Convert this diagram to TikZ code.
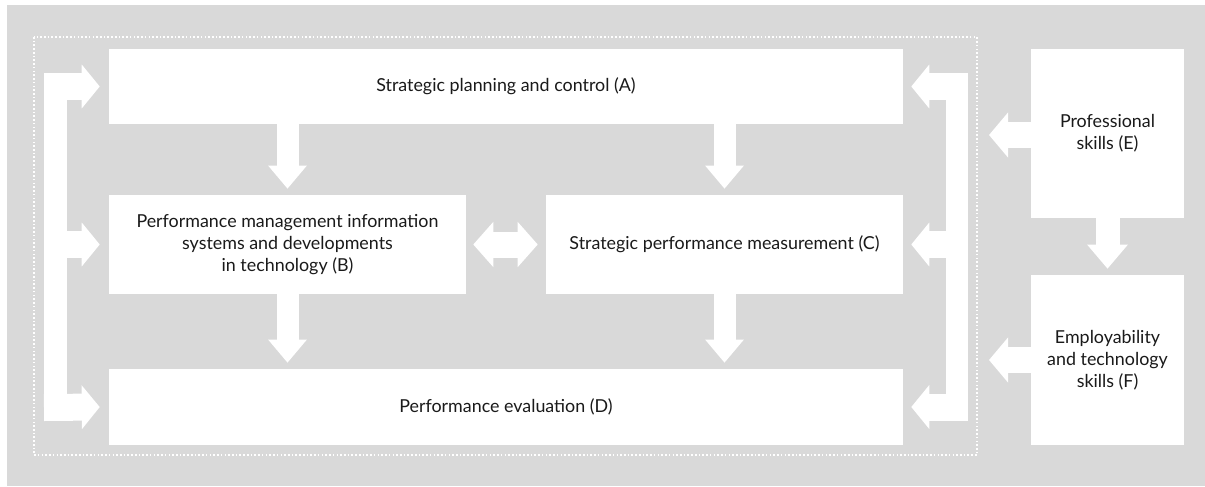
\documentclass[tikz,border=0pt]{standalone}
\usepackage{fontspec}
\setmainfont{Lato}
\usetikzlibrary{arrows.meta}
\definecolor{bg}{HTML}{D9D9D9}
\definecolor{txt}{HTML}{1A1A1A}
\tikzset{
  box/.style={fill=white, draw=none, inner sep=0pt, align=center, text=txt,
    font=\fontsize{13.4}{16.5}\selectfont},
  blk/.style={draw=white, line cap=butt, line join=miter},
  hA/.style={-{Triangle[width=32.25pt,length=13.5pt]}},
  hD/.style={-{Triangle[width=27.75pt,length=17.25pt]}},
  hE/.style={-{Triangle[width=33pt,length=14.25pt]}},
  hF/.style={-{Triangle[width=29.25pt,length=18pt]}},
  hBC/.style={{Triangle[width=33pt,length=15pt]}-{Triangle[width=33pt,length=15pt]}},
}
\begin{document}
\begin{tikzpicture}[x=0.75pt,y=-0.75pt]
\useasboundingbox (0,0) rectangle (1205,486);
\fill[bg] (7,5) rectangle (1205,486);
\draw[white, line width=1.1pt, dash pattern=on 1.2pt off 1.6pt] (34,37) rectangle (977,455);

\node[box, minimum width=595.5pt, minimum height=56.25pt] (A) at (506,86.5) {Strategic planning and control (A)};
\node[box, minimum width=267.75pt, minimum height=74.25pt] (B) at (287.5,244.5) {Performance management information\\systems and developments\\in technology (B)};
\node[box, minimum width=267.75pt, minimum height=74.25pt] (C) at (724.5,244.5) {Strategic performance measurement (C)};
\node[box, minimum width=595.5pt, minimum height=57pt] (D) at (506,407) {Performance evaluation (D)};
\node[box, minimum width=114.75pt, minimum height=126.75pt] (E) at (1107.5,133.5) {Professional\\skills (E)};
\node[box, minimum width=114.75pt, minimum height=127.5pt] (F) at (1107.5,360) {Employability\\and technology\\skills (F)};

% vertical down arrows
\draw[blk, hD, line width=16.5pt] (A.south -| B.center) -- ([yshift=4.5pt]B.north);
\draw[blk, hD, line width=16.5pt] (A.south -| C.center) -- ([yshift=4.5pt]C.north);
\draw[blk, hD, line width=16.5pt] (B.south) -- ([yshift=4.5pt]D.north -| B.center);
\draw[blk, hD, line width=16.5pt] (C.south) -- ([yshift=4.5pt]D.north -| C.center);

% B <-> C
\draw[blk, hBC, line width=19.5pt] ([xshift=5.25pt]B.east) -- ([xshift=-6pt]C.west);

% left bracket
\coordinate (LT) at (55.5,73);
\coordinate (LB) at (55.5,421);
\draw[blk, line width=17.25pt] (LT) -- (LB);
\draw[blk, hA, line width=20.25pt] (44,86.5) -- ([xshift=-6.75pt]A.west);
\draw[blk, hA, line width=20.25pt] (44,244.5) -- ([xshift=-6.75pt]B.west);
\draw[blk, hA, line width=20.25pt] (44,407.5) -- ([xshift=-6.75pt]D.west);

% right bracket
\coordinate (RT) at (957,73);
\coordinate (RB) at (957,420);
\draw[blk, line width=16.5pt] (RT) -- (RB);
\draw[blk, hA, line width=20.25pt] (968,86.5) -- ([xshift=6pt]A.east);
\draw[blk, hA, line width=20.25pt] (968,244.5) -- ([xshift=6pt]C.east);
\draw[blk, hA, line width=20.25pt] (968,407) -- ([xshift=6pt]D.east);

% E, F arrows
\draw[blk, hE, line width=19.5pt] (E.west |- 0,135) -- (989,135);
\draw[blk, hE, line width=19.5pt] (F.west) -- (989,360);
\draw[blk, hF, line width=18pt] (E.south) -- ([yshift=4.5pt]F.north);
\end{tikzpicture}
\end{document}
